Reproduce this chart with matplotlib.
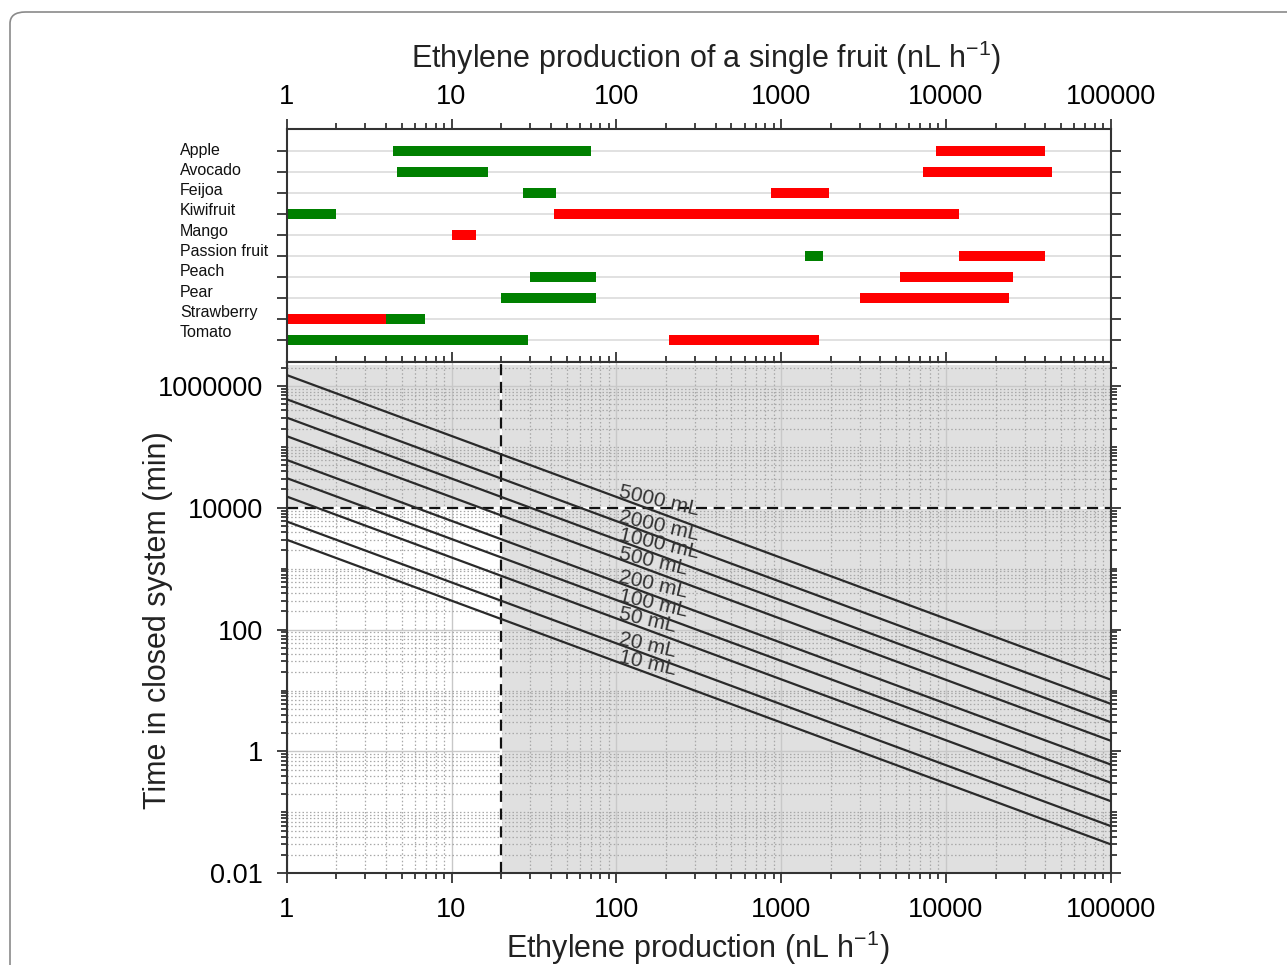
import numpy as np
import matplotlib
matplotlib.use("Agg")
import matplotlib.pyplot as plt
from matplotlib.ticker import FixedLocator, LogLocator, NullFormatter, FixedFormatter
from matplotlib.patches import FancyBboxPatch

plt.rcParams['font.family'] = ['Liberation Sans', 'DejaVu Sans']
plt.rcParams['mathtext.fontset'] = 'custom'
plt.rcParams['mathtext.rm'] = 'Liberation Sans'
plt.rcParams['mathtext.it'] = 'Liberation Sans:italic'
plt.rcParams['mathtext.bf'] = 'Liberation Sans:bold'

# ---------------- data ----------------
fruits = ["Apple", "Avocado", "Feijoa", "Kiwifruit", "Mango", "Passion fruit",
          "Peach", "Pear", "Strawberry", "Tomato"]
# ranges (nL h-1); None where absent
green_lo = [4.4, 4.7, 27, 1.0, None, 1400, 30, 20, 4.0, 1.0]
green_hi = [70, 16.6, 43, 2.0, None, 1800, 75, 75, 6.9, 29]
red_lo = [8700, 7300, 870, 42, 10, 12000, 5300, 3000, 1.0, 210]
red_hi = [40000, 44000, 1950, 12000, 14, 40000, 25600, 24000, 4.0, 1700]

volumes = ["5000 mL", "2000 mL", "1000 mL", "500 mL", "200 mL", "100 mL",
           "50 mL", "20 mL", "10 mL"]
line_x = [1, 100000]
time_at_x1 = [1.51e6, 6.05e5, 3.02e5, 1.50e5, 6.1e4, 3.07e4, 1.53e4, 5960, 2990]
time_at_x1e5 = [15.1, 6.05, 3.02, 1.50, 0.61, 0.307, 0.153, 0.0596, 0.0299]

x_ticks = [1, 10, 100, 1000, 10000, 100000]
x_ticklabels = ["1", "10", "100", "1000", "10000", "100000"]
y_ticks = [0.01, 1, 100, 10000, 1000000]
y_ticklabels = ["0.01", "1", "100", "10000", "1000000"]
threshold_x = 20
threshold_y = 10000

# ---------------- figure ----------------
W, H = 1287, 965
fig = plt.figure(figsize=(W / 100, H / 100), dpi=100)

def fx(px):
    return px / W

def fy(py):
    return 1 - py / H

# rounded frame
frame = FancyBboxPatch((fx(10), fy(1000)), fx(1400), fy(12) - fy(1000),
                       boxstyle="round,pad=0,rounding_size=0.012",
                       transform=fig.transFigure, fill=False,
                       edgecolor="#8a8a8a", lw=1.2, zorder=-10)
fig.patches.append(frame)

L, R = 286.7, 1110.7
T1, B1 = 129.3, 361.7
B2 = 873.3

ax1 = fig.add_axes([fx(L), fy(B1), fx(R - L), fy(T1) - fy(B1)])
ax2 = fig.add_axes([fx(L), fy(B2), fx(R - L), fy(B1) - fy(B2)])

spine_col = "#333333"
tick_fs = 19.5
label_fs = 22

# ---------------- top panel ----------------
ax1.set_xscale("log")
ax1.set_xlim(1, 100000)
ax1.set_ylim(len(fruits) - 1 + 1.015, -1.015)
rows = np.arange(len(fruits))
for r in rows:
    ax1.axhline(r, color="#dcdcdc", lw=1.2, zorder=0.5)
bh = 0.48
for i in rows:
    if green_lo[i] is not None:
        ax1.barh(i, green_hi[i] - green_lo[i], left=green_lo[i], height=bh,
                 color="#008000", zorder=2)
    if red_lo[i] is not None:
        ax1.barh(i, red_hi[i] - red_lo[i], left=red_lo[i], height=bh,
                 color="#ff0000", zorder=2)
ax1.set_yticks(rows)
ax1.set_yticklabels([])
ax1.tick_params(axis="y", which="both", left=True, right=True, direction="out",
                length=7, width=1.3, color=spine_col)
ax1.xaxis.set_major_locator(FixedLocator(x_ticks))
ax1.xaxis.set_major_formatter(FixedFormatter(x_ticklabels))
ax1.xaxis.set_minor_locator(LogLocator(base=10, subs=np.arange(2, 10)))
ax1.xaxis.set_minor_formatter(NullFormatter())
ax1.tick_params(axis="x", which="both", top=True, bottom=False, labeltop=True,
                labelbottom=False, direction="out", color=spine_col,
                labelsize=tick_fs, pad=7, width=1.3)
ax1.tick_params(axis="x", which="major", length=7)
ax1.tick_params(axis="x", which="minor", length=4)
for s in ax1.spines.values():
    s.set_color(spine_col)
    s.set_linewidth(1.5)

for i, name in enumerate(fruits):
    fig.text(fx(180), fy(150 + 20.3 * i), name, fontsize=11.5, ha="left",
             va="center", color="#111111")

fig.text(fx(706), fy(58), "Ethylene production of a single fruit (nL h$^{-1}$)",
         fontsize=label_fs, ha="center", va="center", color="#222222")

# ---------------- bottom panel ----------------
ax2.set_xscale("log")
ax2.set_yscale("log")
ax2.set_xlim(1, 100000)
ax2.set_ylim(0.01, 2.5e6)
ax2.set_axisbelow(True)

shade = "#e0e0e0"
ax2.fill_between([threshold_x, 100000], 0.01, 2.2e6, color=shade, zorder=0.1, lw=0)
ax2.fill_between([1, 100000], threshold_y, 2.2e6, color=shade, zorder=0.1, lw=0)

ax2.xaxis.set_major_locator(FixedLocator(x_ticks))
ax2.xaxis.set_major_formatter(FixedFormatter(x_ticklabels))
ax2.xaxis.set_minor_locator(LogLocator(base=10, subs=np.arange(2, 10)))
ax2.xaxis.set_minor_formatter(NullFormatter())
ax2.yaxis.set_major_locator(FixedLocator(y_ticks))
ax2.yaxis.set_major_formatter(FixedFormatter(y_ticklabels))
ax2.yaxis.set_minor_locator(LogLocator(base=10, subs=np.arange(1, 10), numticks=40))
ax2.yaxis.set_minor_formatter(NullFormatter())

ax2.grid(True, which="major", color="#c8c8c8", lw=1.0, ls="-")
ax2.grid(True, which="minor", color="#a8a8a8", lw=0.9, ls=(0, (1.2, 1.8)))

ax2.tick_params(axis="both", which="both", direction="out", color=spine_col,
                labelsize=tick_fs, width=1.3)
ax2.tick_params(axis="both", which="major", length=7)
ax2.tick_params(axis="both", which="minor", length=4)
ax2.tick_params(axis="y", which="both", left=True, right=True)
ax2.tick_params(axis="x", which="both", top=True, bottom=True, labeltop=False, pad=10)
ax2.tick_params(axis="y", which="both", pad=10)
for s in ax2.spines.values():
    s.set_color(spine_col)
    s.set_linewidth(1.5)

# threshold dashed lines
ax2.axhline(threshold_y, color="white", lw=1.6, zorder=2)
ax2.axhline(threshold_y, color="#111111", lw=1.6, ls=(0, (5, 3)), zorder=2.1)
ax2.axvline(threshold_x, color="white", lw=1.6, zorder=2)
ax2.axvline(threshold_x, color="#111111", lw=1.6, ls=(0, (5, 3)), zorder=2.1)

# volume lines
lx0, lx1 = np.log10(line_x[0]), np.log10(line_x[1])
for name, t0, t1 in zip(volumes, time_at_x1, time_at_x1e5):
    ax2.plot(line_x, [t0, t1], color="#2a2a2a", lw=1.6, zorder=3)
    xl = 10 ** 2.01
    frac = (np.log10(xl) - lx0) / (lx1 - lx0)
    yl = 10 ** (np.log10(t0) + frac * (np.log10(t1) - np.log10(t0)))
    ax2.text(xl, yl, name, fontsize=15, rotation=-13, rotation_mode="anchor",
             ha="left", va="baseline", color="#333333", zorder=4)

fig.text(fx(158), fy(620), "Time in closed system (min)", fontsize=label_fs,
         rotation=90, ha="center", va="center", color="#222222")
fig.text(fx(698), fy(948), "Ethylene production (nL h$^{-1}$)", fontsize=label_fs,
         ha="center", va="center", color="#222222")

fig.savefig("out.png", dpi=100)
